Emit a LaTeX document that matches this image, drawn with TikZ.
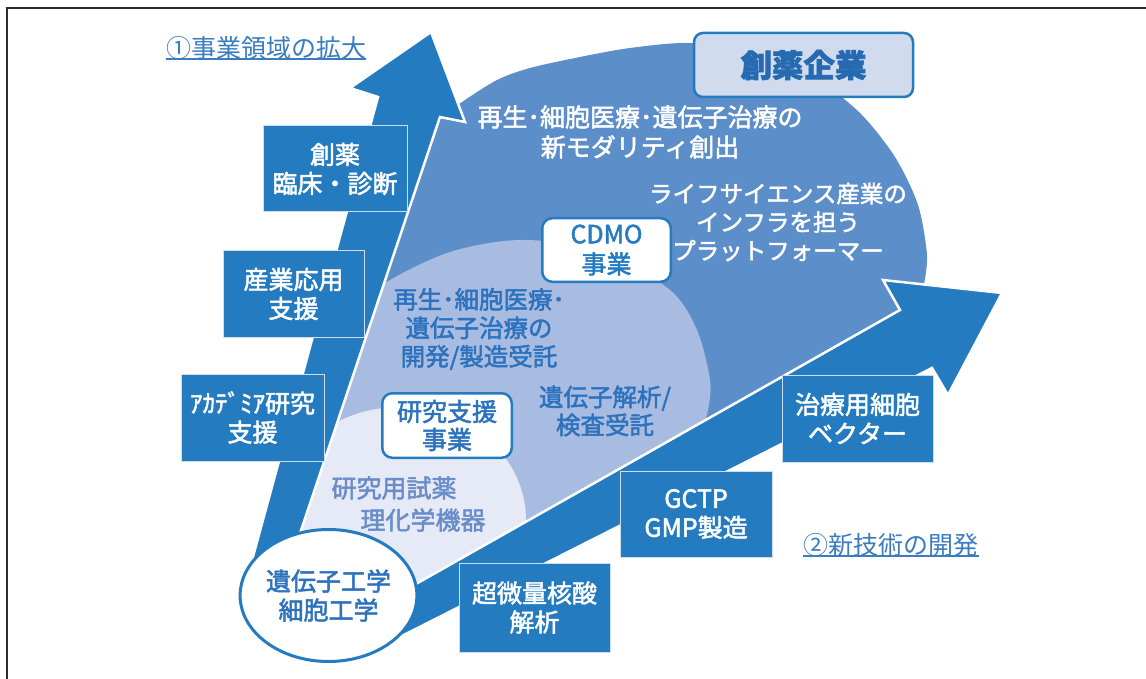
\documentclass[tikz,border=0pt]{standalone}
\usepackage{fontspec}
\setmainfont{Noto Sans CJK JP}[FakeBold=2]
\newfontfamily\lightjp{Noto Sans CJK JP}
\usetikzlibrary{shapes.geometric}
\definecolor{arrowc}{RGB}{36,123,192}
\definecolor{fanc}{RGB}{92,142,201}
\definecolor{midc}{RGB}{168,188,226}
\definecolor{innc}{RGB}{229,234,246}
\definecolor{topboxc}{RGB}{208,220,238}
\definecolor{midtext}{RGB}{44,114,188}
\definecolor{inntext}{RGB}{106,140,200}
\definecolor{labc}{RGB}{58,124,192}
\definecolor{boxline}{RGB}{205,222,240}
\definecolor{framec}{RGB}{45,45,45}
\definecolor{darktext}{RGB}{38,106,178}
\def\fanpath{(302,528) -- plot[smooth] coordinates {(440,118) (462,102) (497,80) (530,68) (580,57) (630,48) (690,43) (760,52) (815,78) (860,113) (895,157) (918,205) (927,255) (924,284)} -- (900,310) -- (417,583) -- (330,600) -- cycle}
\tikzset{
  fz/.style={font=\fontsize{25}{29}\selectfont},
  bluebox/.style={fill=arrowc, draw=boxline, line width=1, text=white, align=center, inner sep=0pt, fz},
  roundbox/.style={fill=white, draw=arrowc, line width=2.5, rounded corners=10, text=arrowc, align=center, inner sep=0pt},
  bigarrow/.style={fill=arrowc, draw=white, line width=2.5, line join=miter},
  lab/.style={text=labc, inner sep=0pt, font=\lightjp\fontsize{25}{29}\selectfont},
}
\begin{document}
\begin{tikzpicture}[x=1pt,y=-1pt]
\useasboundingbox (0,0) rectangle (1146,679);
% frame
\draw[framec, line width=2.2] (7,679) -- (7,8) -- (1146,8);
% fan and inner regions
\fill[fanc] \fanpath;
\begin{scope}
  \clip \fanpath;
  \fill[midc] plot[smooth] coordinates {(340,320) (385,283) (450,252) (520,240) (600,250) (670,290) (697,330) (710,380) (708,410) (698,445)} -- (520,620) -- (300,620) -- cycle;
  \fill[innc] (400,520) ellipse [x radius=126pt, y radius=113pt];
\end{scope}
% arrows
\draw[bigarrow] (431,32) -- (465,122) -- (440,117) -- (286,575) -- (248,575) -- (378,97) -- (350,88) -- cycle;
\draw[bigarrow] (1002,293) -- (948,395) -- (932,368) -- (380,647) -- (370,610) -- (900,310) -- (883,280) -- cycle;
% base ellipse
\node[ellipse, draw=arrowc, fill=white, line width=3, minimum width=168pt, minimum height=132pt, align=center, text=midtext, inner sep=0pt, fz] (base) at (328.5,595.5) {遺伝子工学\\細胞工学};
% left boxes
\node[bluebox, minimum width=144pt, minimum height=86pt] (b1) at (335,169) {創薬\\臨床・診断};
\node[bluebox, minimum width=141pt, minimum height=86pt] (b2) at (293.5,294) {産業応用\\支援};
\node[bluebox, minimum width=143pt, minimum height=87pt] (b3) at (252.5,417.5) {ｱｶﾃﾞﾐｱ研究\\支援};
% right boxes
\node[bluebox, minimum width=151pt, minimum height=89pt] (r1) at (534.5,607.5) {超微量核酸\\解析};
\node[bluebox, minimum width=152pt, minimum height=86pt] (r2) at (696,514) {GCTP\\GMP製造};
\node[bluebox, minimum width=151pt, minimum height=87pt] (r3) at (857.5,418.5) {治療用細胞\\ベクター};
% top company box
\node[fill=topboxc, draw=arrowc, line width=2.5, rounded corners=9, minimum width=219pt, minimum height=64pt, inner sep=0pt, text=darktext, font=\fontsize{31.5}{32}\selectfont\bfseries] (top) at (803.5,65) {創薬企業};
% business boxes
\node[roundbox, minimum width=128.5pt, minimum height=63.5pt, font=\fontsize{25}{30}\selectfont] (cdmo) at (606.5,250) {CDMO\\事業};
\node[roundbox, minimum width=129.5pt, minimum height=64.5pt, text=midtext, font=\fontsize{25}{28}\selectfont] (ken) at (447,425.5) {研究支援\\事業};
% fan texts
\node[text=white, align=center, inner sep=0pt, font=\fontsize{25}{30}\selectfont] (t1) at (640,132) {再生･細胞医療･遺伝子治療の\\新モダリティ創出};
\node[text=white, align=center, inner sep=0pt, font=\fontsize{23.5}{28.5}\selectfont] (t2) at (778,222) {ライフサイエンス産業の\\インフラを担う\\プラットフォーマー};
\node[text=midtext, align=center, inner sep=0pt, font=\fontsize{24.5}{28.5}\selectfont] (t3) at (479,329) {再生･細胞医療･\\遺伝子治療の\\開発/製造受託};
\node[text=midtext, align=center, inner sep=0pt, font=\fontsize{24.5}{28}\selectfont] (t4) at (605,411) {遺伝子解析/\\検査受託};
\node[text=inntext, inner sep=0pt, fz] (t5) at (394,488) {研究用試薬};
\node[text=inntext, inner sep=0pt, fz] (t6) at (423,520) {理化学機器};
% labels
\node[lab] (lab1) at (266,48) {①事業領域の拡大};
\draw[labc, line width=1.2] ([yshift=-11pt]lab1.west) -- ([yshift=-11pt]lab1.east);
\node[lab] (lab2) at (891,545) {②新技術の開発};
\draw[labc, line width=1.2] ([yshift=-11pt]lab2.west) -- ([yshift=-11pt]lab2.east);
\end{tikzpicture}
\end{document}
